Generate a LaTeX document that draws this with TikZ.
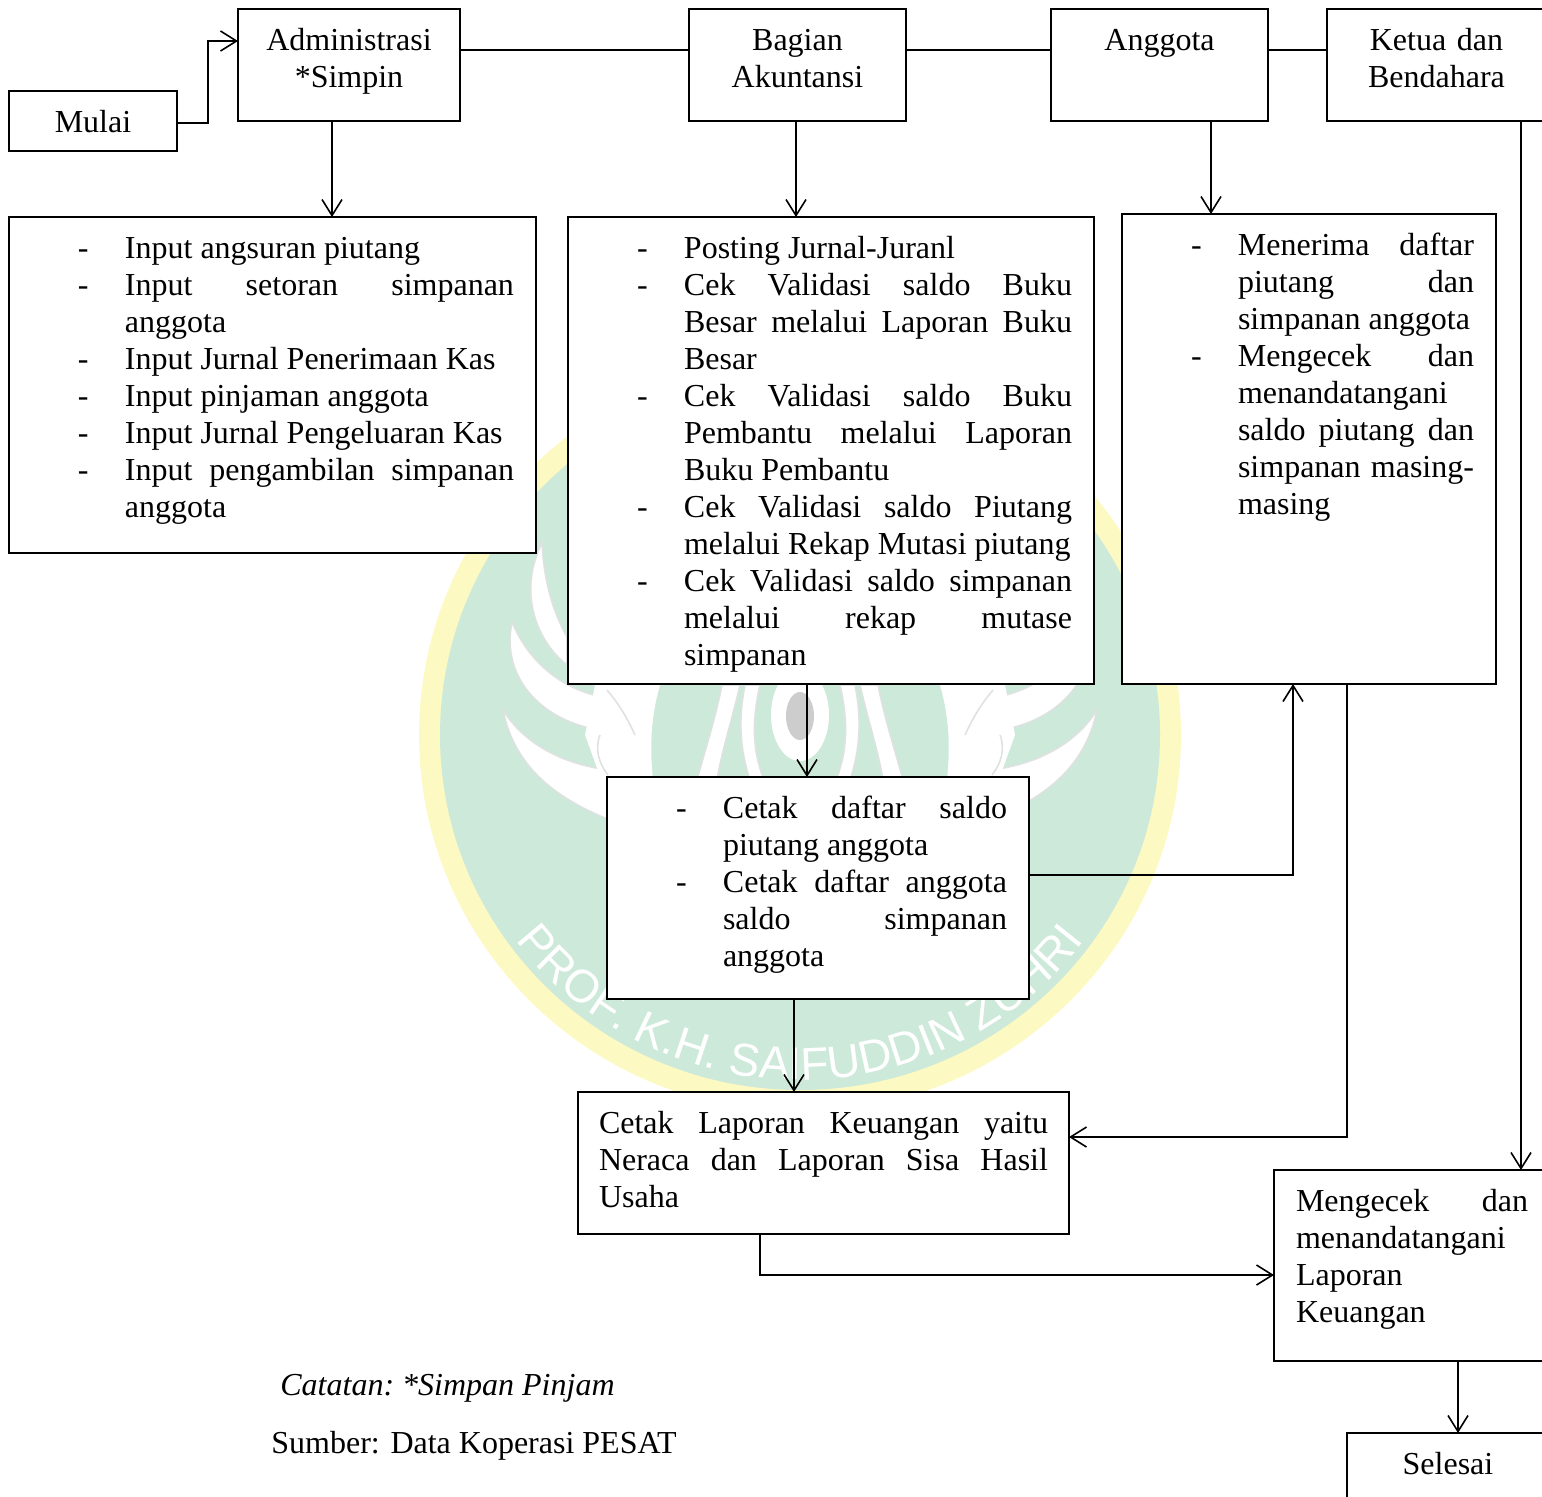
\documentclass[tikz,border=0pt]{standalone}
\usepackage{fontspec}
\setmainfont{Liberation Serif}
\newfontfamily\wmfont{Liberation Sans}
\usetikzlibrary{arrows.meta,decorations.text}
\definecolor{pGreen}{RGB}{205,233,218}
\definecolor{pYellow}{RGB}{253,249,195}
\definecolor{pGray}{RGB}{205,205,205}
\definecolor{pLine}{RGB}{222,226,224}
\newcommand{\itm}[1]{\hangindent=47pt\hangafter=1\noindent\hspace*{23.5pt}\makebox[23.5pt][l]{-}#1\par}
\tikzset{
    kotak/.style={rectangle, draw, fill=white, line width=0.7pt, anchor=north west, inner xsep=11pt, inner ysep=0pt,
        outer sep=0pt, text height=20.5pt, align=justify, font=\fontsize{16}{18.5}\selectfont\sloppy},
    judul/.style={kotak, align=center},
    catatan/.style={anchor=base west, inner sep=0pt, font=\fontsize{16}{18.5}\selectfont},
    arr/.style={line width=0.8pt, -{Straight Barb[length=8pt,width=10pt,line width=0.8pt]}},
    lin/.style={line width=0.8pt},
    bulu/.style={fill=white, draw=pLine, line width=0.8pt}
}
\begin{document}
\begin{tikzpicture}[x=0.5pt,y=-0.5pt]
\clip (0,0) rectangle (1542,1496);
\fill[pYellow] (800,735) ellipse [x radius=381, y radius=377];
\fill[pGreen] (800,735) ellipse [x radius=360, y radius=355];
\foreach \s in {-1,1} {
\begin{scope}[shift={(800,0)},xscale=\s]
\fill[bulu] (258,543) .. controls (282,590) and (265,640) .. (233,665) -- (233,637) .. controls (248,610) and (256,580) .. cycle;
\fill[bulu] (288,622) .. controls (300,680) and (255,722) .. (200,730) -- (197,697) .. controls (235,690) and (270,665) .. cycle;
\fill[bulu] (297,710) .. controls (285,770) and (240,800) .. (190,820) -- (190,770) .. controls (235,765) and (275,745) .. cycle;
\fill[white] (140,685) .. controls (150,720) and (150,750) .. (147,780) -- (195,790) -- (215,735) -- (205,685) -- cycle;
\fill[bulu] (60,685) -- (78,685) .. controls (85,720) and (95,750) .. (103,780) -- (83,780) .. controls (78,750) and (68,720) .. cycle;
\fill[bulu] (40,685) -- (55,685) .. controls (62,720) and (60,750) .. (50,780) -- (36,780) .. controls (48,750) and (48,720) .. cycle;
\draw[pLine, line width=0.8pt] (193,690) .. controls (180,705) and (172,720) .. (165,735);
\draw[pLine, line width=0.8pt] (200,735) .. controls (206,750) and (200,765) .. (192,775);
\end{scope}
}
\fill[white] (800,715) ellipse [x radius=29, y radius=46];
\fill[pGray] (800,716) ellipse [x radius=14, y radius=24];
\path[decorate, decoration={text along path, text align=center,
    text={|\color{white}\wmfont\fontsize{23}{23}\selectfont|PROF. K.H. SAIFUDDIN ZUHRI}}]
    (800,720) ++(147:360) arc [start angle=147, end angle=33, radius=360];
\node[judul, text width=62pt, text depth=9.5pt] (mulai) at (9,91) {Mulai};
\node[judul, text width=89pt, text depth=35.5pt] (admin) at (238,9) {Administrasi\\{}*Simpin};
\node[judul, text width=86.5pt, text depth=35.5pt] (bagian) at (689,9) {Bagian\\Akuntansi};
\node[judul, text width=86.5pt, text depth=35.5pt] (anggota) at (1051,9) {Anggota};
\node[judul, text width=87.5pt, text depth=35.5pt] (ketua) at (1327,9) {Ketua dan\\Bendahara};
\node[kotak, text width=241.5pt, text depth=147.5pt] (input) at (9,217) {%
\itm{Input angsuran piutang}
\itm{Input setoran simpanan\linebreak anggota}
\itm{Input Jurnal Penerimaan Kas}
\itm{Input pinjaman anggota}
\itm{Input Jurnal Pengeluaran Kas}
\itm{Input pengambilan simpanan\linebreak anggota}};
\node[kotak, text width=241pt, text depth=213pt] (posting) at (568,217) {%
\itm{Posting Jurnal-Juranl}
\itm{Cek Validasi saldo Buku\linebreak Besar melalui Laporan Buku\linebreak Besar}
\itm{Cek Validasi saldo Buku\linebreak Pembantu melalui Laporan\linebreak Buku Pembantu}
\itm{Cek Validasi saldo Piutang\linebreak melalui Rekap Mutasi piutang}
\itm{Cek Validasi saldo simpanan\linebreak melalui rekap mutase\linebreak simpanan}};
\node[kotak, text width=165pt, text depth=214.5pt] (menerima) at (1122,214) {%
\itm{Menerima daftar\linebreak piutang dan\linebreak simpanan anggota}
\itm{Mengecek dan\linebreak menandatangani\newline saldo piutang dan\linebreak simpanan masing-\linebreak masing}};
\node[kotak, text width=189pt, text depth=90.5pt] (cetak) at (607,777) {%
\itm{Cetak daftar saldo\linebreak piutang anggota}
\itm{Cetak daftar anggota\linebreak saldo simpanan\linebreak anggota}};
\node[kotak, inner xsep=10.5pt, text width=224.5pt, text depth=50.5pt] (laporan) at (578,1092) {%
Cetak Laporan Keuangan yaitu\linebreak Neraca dan Laporan Sisa Hasil\linebreak Usaha};
\node[kotak, text width=116pt, text depth=75pt] (mengecek) at (1274,1170) {%
Mengecek dan\linebreak menandatangani\newline Laporan\newline Keuangan};
\node[judul, text width=79pt, text depth=18pt] (selesai) at (1347,1433) {Selesai};
\node[catatan] (ctt) at (280,1395) {\itshape\frenchspacing Catatan: *Simpan Pinjam};
\node[catatan] (smb) at (271,1453) {Sumber: Data Koperasi PESAT};
\coordinate (adminS) at ([xshift=-8.5pt]admin.south);
\coordinate (bagianS) at ([xshift=-0.75pt]bagian.south);
\coordinate (anggotaS) at ([xshift=25.75pt]anggota.south);
\coordinate (ketuaS) at ([xshift=42.25pt]ketua.south);
\coordinate (postingS) at ([xshift=-12pt]posting.south);
\coordinate (cetakS) at ([xshift=-12pt]cetak.south);
\coordinate (mengecekS) at ([xshift=23pt]mengecek.south);
\draw[arr] ([yshift=-1pt]mulai.east) -- ++(31,0) |- ([yshift=12pt]admin.west);
\draw[lin] ([yshift=7.5pt]admin.east) -- ([yshift=7.5pt]bagian.west);
\draw[lin] ([yshift=7.5pt]bagian.east) -- ([yshift=7.5pt]anggota.west);
\draw[lin] ([yshift=7.5pt]anggota.east) -- ([yshift=7.5pt]ketua.west);
\draw[arr] (adminS) -- (adminS |- input.north);
\draw[arr] (bagianS) -- (bagianS |- posting.north);
\draw[arr] (anggotaS) -- (anggotaS |- menerima.north);
\draw[arr] (ketuaS) -- (ketuaS |- mengecek.north);
\draw[arr] (postingS) -- (postingS |- cetak.north);
\draw[arr] (cetakS) -- (cetakS |- laporan.north);
\draw[arr] ([yshift=6.5pt]cetak.east) -| ([xshift=-8pt]menerima.south);
\draw[arr] ([xshift=19pt]menerima.south) |- ([yshift=13pt]laporan.east);
\draw[arr] ([xshift=-31.75pt]laporan.south) |- ([yshift=-4.75pt]mengecek.west);
\draw[arr] (mengecekS) -- (mengecekS |- selesai.north);
\end{tikzpicture}
\end{document}
